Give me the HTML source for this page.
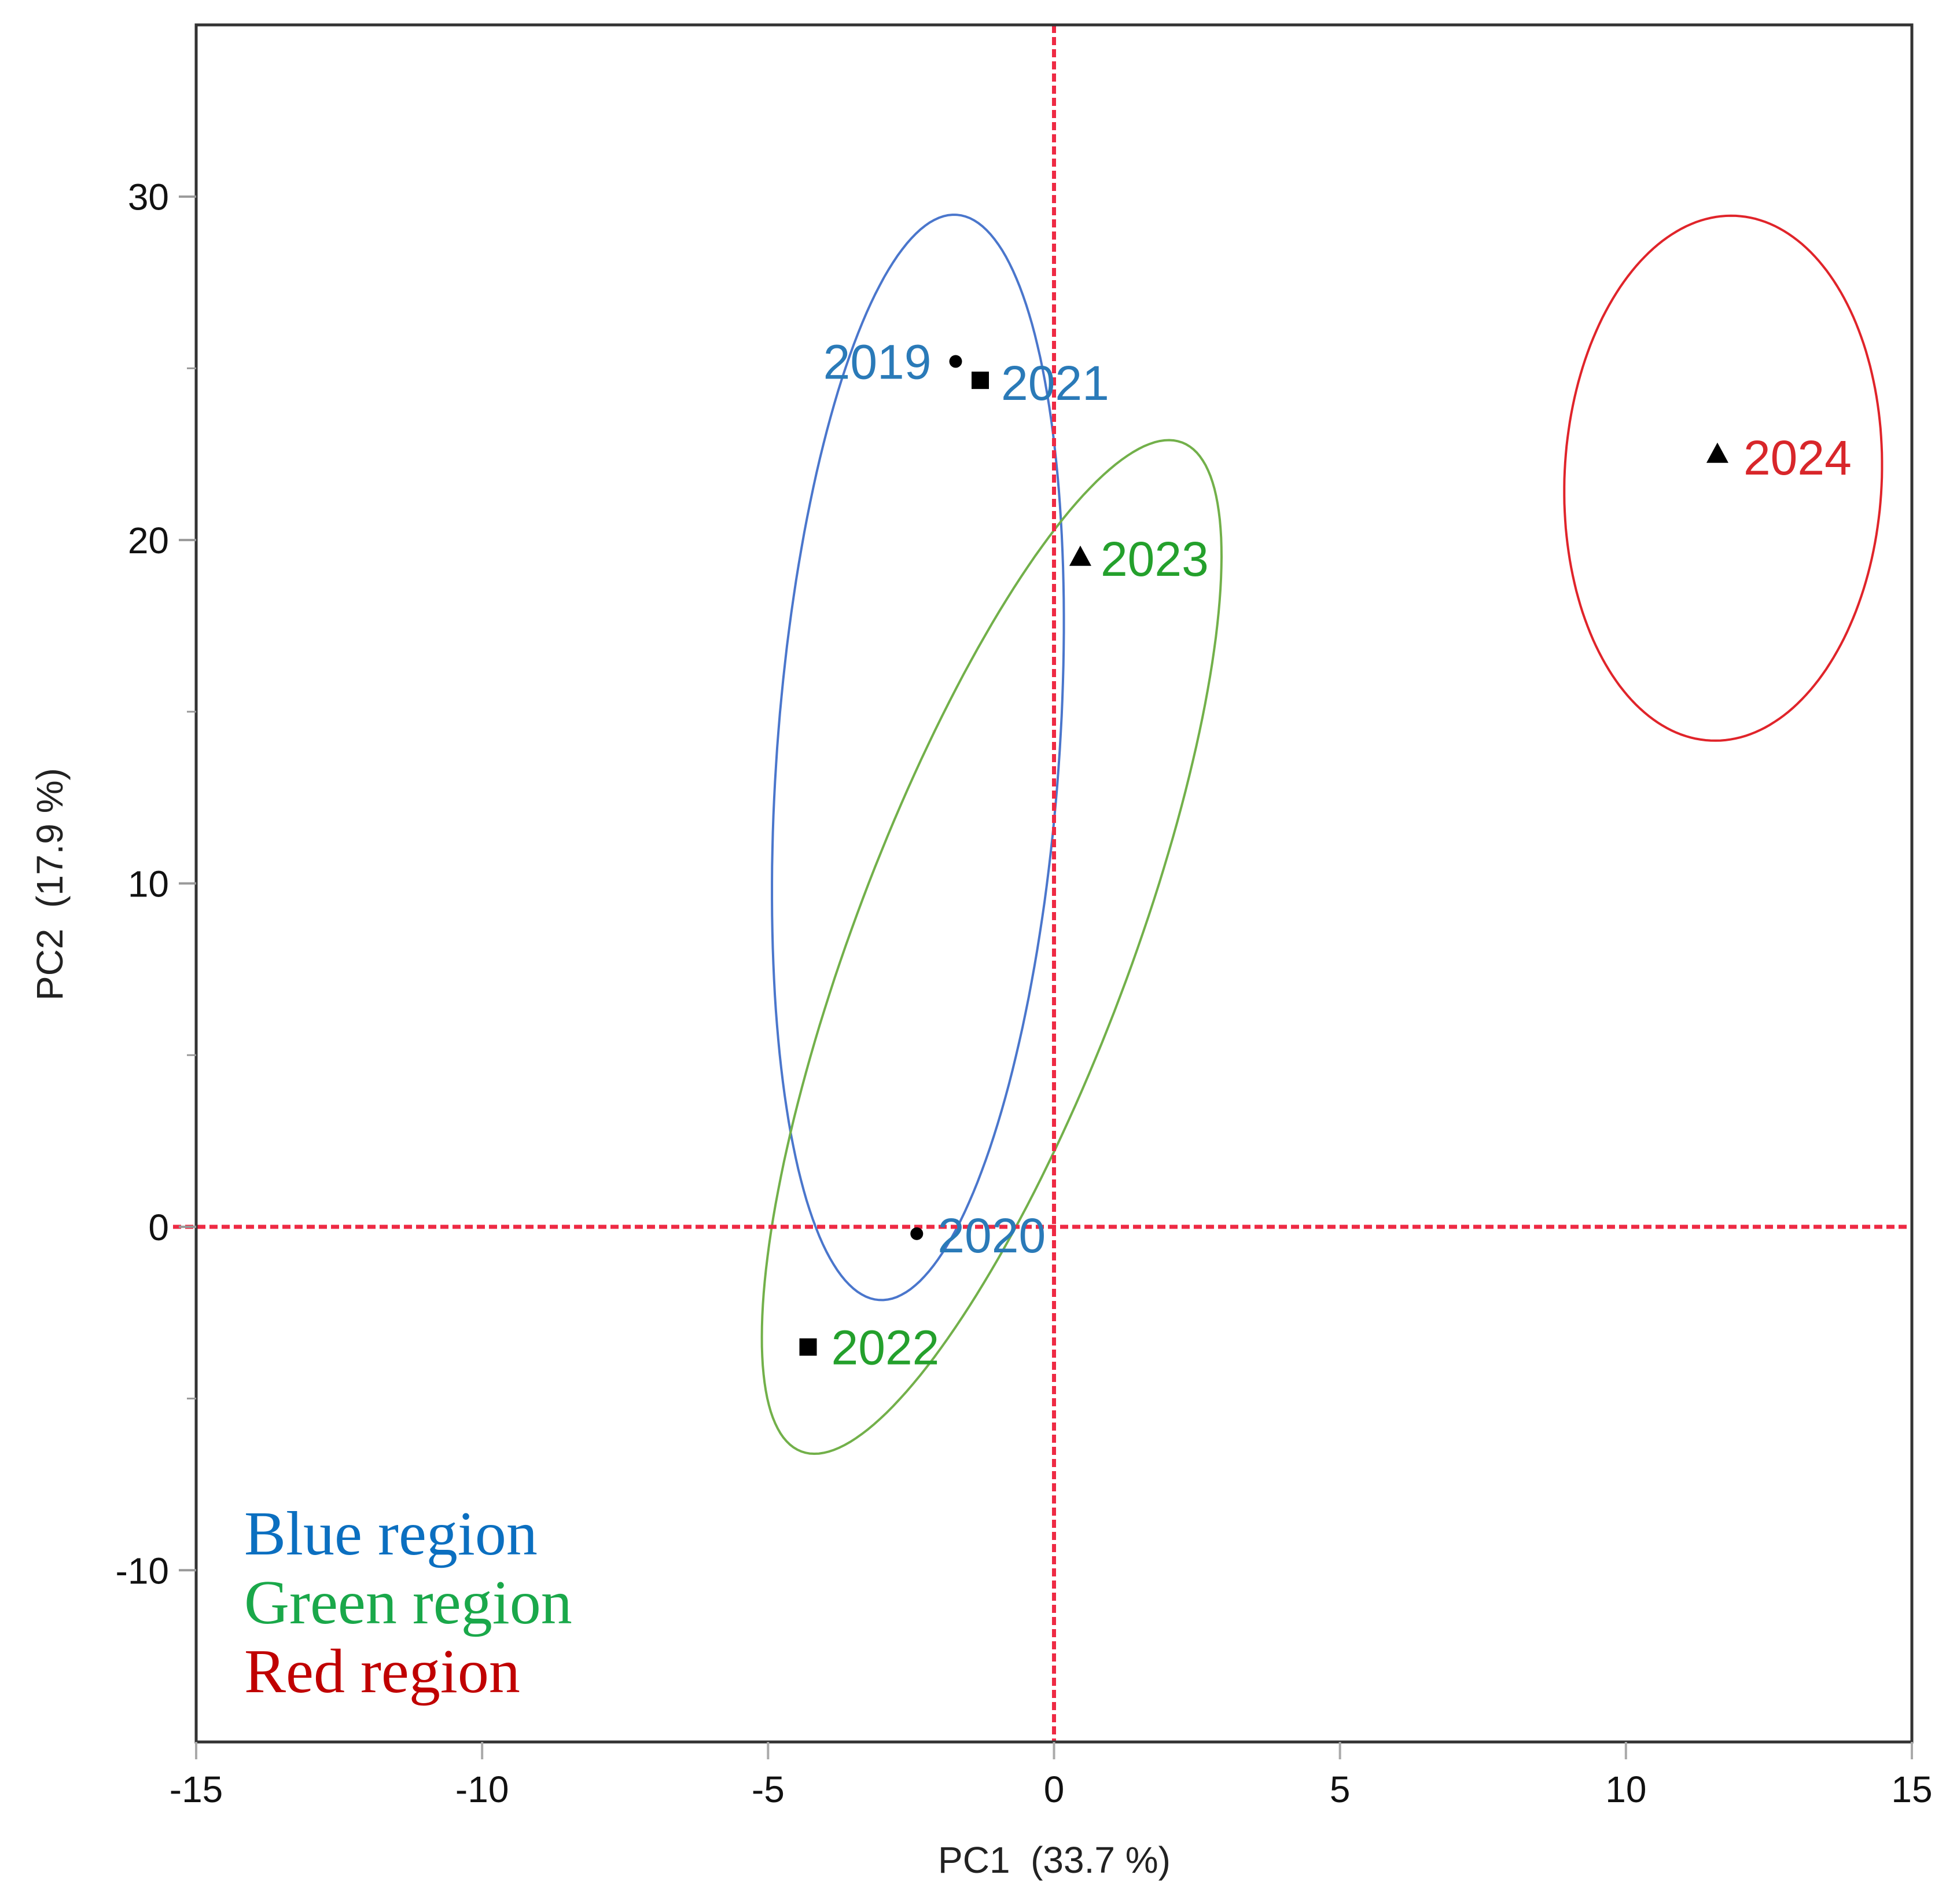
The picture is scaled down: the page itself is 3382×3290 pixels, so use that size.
<!DOCTYPE html>
<html><head><meta charset="utf-8"><style>
html,body{margin:0;padding:0;background:#fff;}
svg{display:block;}
</style></head><body>
<svg id="chart" width="3382" height="3290" viewBox="0 0 3382 3290" xmlns="http://www.w3.org/2000/svg">
<rect width="3382" height="3290" fill="#fff"/>
<g id="ellipses"></g>
<g id="refs"></g>
<g id="axes"></g>
<g id="points"></g>
<g id="legend" font-family="Liberation Serif, serif" font-size="108">
<text x="422" y="2686" fill="#0b6fc0">Blue region</text>
<text x="422" y="2805" fill="#1aa84a">Green region</text>
<text x="422" y="2924" fill="#c00000">Red region</text>
</g>
<text x="1822" y="3236" text-anchor="middle" font-family="Liberation Sans, sans-serif" font-size="64" fill="#222" xml:space="preserve">PC1  (33.7 %)</text>
<text transform="translate(108,1528) rotate(-90)" text-anchor="middle" font-family="Liberation Sans, sans-serif" font-size="64" fill="#222" xml:space="preserve">PC2  (17.9 %)</text>
</svg>
<script>
const xTicks = [-15, -10, -5, 0, 5, 10, 15];
const yTicks = [-10, 0, 10, 20, 30];
const yMinorTicks = [-5, 5, 15, 25];
const pointNames = ["2019", "2020", "2021", "2022", "2023", "2024"];
const pointX = [-1.72, -2.4, -1.29, -4.3, 0.46, 11.6];
const pointY = [25.2, -0.2, 24.65, -3.5, 19.5, 22.5];
const pointShape = ["circle", "circle", "square", "square", "triangle", "triangle"];
const pointRegion = ["blue", "blue", "blue", "green", "green", "red"];
const ellipseNames = ["blue", "green", "red"];
const ellipseCx = [-2.38, -1.09, 11.70];
const ellipseCy = [13.67, 8.15, 21.8];
const ellipseMajorX = [0.68, 3.33, 0.22];
const ellipseMajorY = [15.8, 14.69, 7.64];
const ellipseMinorX = [2.46, 2.25, 2.77];
const ellipseMinorY = [-0.29, -1.42, -0.22];

const NS = "http://www.w3.org/2000/svg";
const L = 339, R = 3304, T = 43, B = 3010;
const xMin = -15, xMax = 15, yMin = -15, yMax = 35;
function sx(v){ return L + (v - xMin) / (xMax - xMin) * (R - L); }
function sy(v){ return B - (v - yMin) / (yMax - yMin) * (B - T); }
function mk(tag, attrs, parent){ const e = document.createElementNS(NS, tag); for (const k in attrs) e.setAttribute(k, attrs[k]); parent.appendChild(e); return e; }

const ellCol = {blue: "#4a76cc", green: "#72b04a", red: "#e0242a"};
const labCol = {blue: "#2a7ab8", green: "#24a02c", red: "#d8262a"};
const gE = document.getElementById("ellipses");
for (let i = 0; i < ellipseNames.length; i++) {
  let d = "";
  for (let k = 0; k <= 200; k++) {
    const t = k / 200 * 2 * Math.PI;
    const vx = ellipseCx[i] + Math.cos(t) * ellipseMajorX[i] + Math.sin(t) * ellipseMinorX[i];
    const vy = ellipseCy[i] + Math.cos(t) * ellipseMajorY[i] + Math.sin(t) * ellipseMinorY[i];
    d += (k ? "L" : "M") + sx(vx).toFixed(1) + " " + sy(vy).toFixed(1);
  }
  const p = mk("path", {d: d + "Z", fill: "none", stroke: ellCol[ellipseNames[i]], "stroke-width": 4}, gE);
  
  
}

const gR = document.getElementById("refs");
const hl = mk("line", {x1: L - 40, x2: R, y1: sy(0), y2: sy(0), stroke: "#ee2a44", "stroke-width": 7, "stroke-dasharray": "14 7"}, gR);


const vl = mk("line", {x1: sx(0), x2: sx(0), y1: T, y2: B, stroke: "#ee2a44", "stroke-width": 7, "stroke-dasharray": "14 7"}, gR);



const gA = document.getElementById("axes");
const frame = mk("rect", {x: L, y: T, width: R - L, height: B - T, fill: "none", stroke: "#333", "stroke-width": 5}, gA);


xTicks.forEach(v => {
  const t = mk("line", {x1: sx(v), x2: sx(v), y1: B, y2: B + 30, stroke: "#aaa", "stroke-width": 4}, gA);
  
  
  const tx = mk("text", {x: sx(v), y: 3114, "text-anchor": "middle", "font-family": "Liberation Sans, sans-serif", "font-size": 64, fill: "#111"}, gA);
  tx.textContent = String(v);
  
  
});
yTicks.forEach(v => {
  const t = mk("line", {x1: L - 30, x2: L, y1: sy(v), y2: sy(v), stroke: "#999", "stroke-width": 4}, gA);
  
  
  const tx = mk("text", {x: 292, y: sy(v) + 23, "text-anchor": "end", "font-family": "Liberation Sans, sans-serif", "font-size": 64, fill: "#111"}, gA);
  tx.textContent = String(v);
  
  
});
yMinorTicks.forEach(v => {
  const t = mk("line", {x1: L - 16, x2: L, y1: sy(v), y2: sy(v), stroke: "#999", "stroke-width": 3}, gA);
  
  
});

const gP = document.getElementById("points");
const labDx = {"2019": -42, "2020": 36, "2021": 36, "2022": 40, "2023": 35, "2024": 45};
const labDy = [30, 32, 34, 30, 32, 35];
for (let i = 0; i < pointNames.length; i++) {
  const px = sx(pointX[i]), py = sy(pointY[i]);
  let m;
  if (pointShape[i] === "circle") m = mk("circle", {cx: px, cy: py, r: 11, fill: "#000"}, gP);
  else if (pointShape[i] === "square") m = mk("rect", {x: px - 15, y: py - 15, width: 30, height: 30, fill: "#000"}, gP);
  else m = mk("path", {d: `M${px} ${py - 20}L${px + 19} ${py + 15}L${px - 19} ${py + 15}Z`, fill: "#000"}, gP);
  
  
  const dx = labDx[pointNames[i]];
  const lb = mk("text", {x: px + dx, y: py + labDy[i], "text-anchor": dx < 0 ? "end" : "start", "font-family": "Liberation Sans, sans-serif", "font-size": 84, fill: labCol[pointRegion[i]]}, gP);
  lb.textContent = pointNames[i];
  
  
}
</script>
</body></html>
